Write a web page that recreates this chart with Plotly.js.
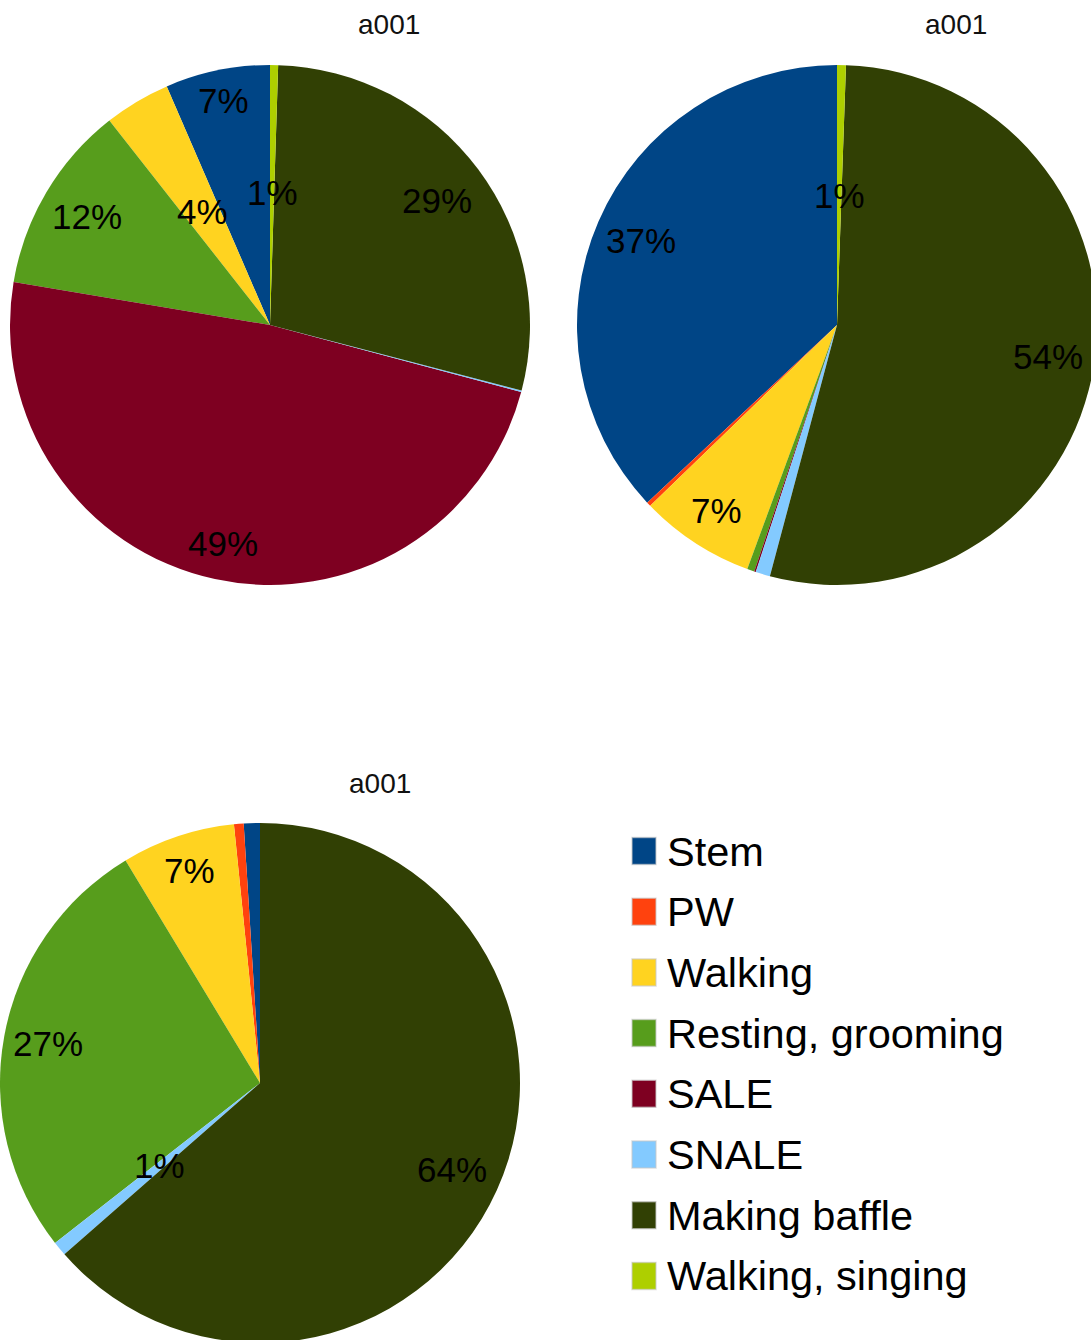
<!DOCTYPE html>
<html><head><meta charset="utf-8">
<script src="https://cdn.plot.ly/plotly-3.0.1.min.js"></script>
<style>html,body{margin:0;padding:0;overflow:hidden;background:#fff}#chart{width:1100px;height:1350px}</style>
</head><body><div id="chart"></div>
<script>
// ---- data ----
const categories = ['Stem', 'PW', 'Walking', 'Resting, grooming', 'SALE', 'SNALE', 'Making baffle', 'Walking, singing'];
const colors = ['#004586', '#ff420e', '#ffd320', '#579d1c', '#7e0021', '#83caff', '#314004', '#aecf00'];
const pie1Values = [6.5, 0, 4.1, 11.75, 48.5, 0.1, 28.55, 0.5];
const pie2Values = [36.97, 0.27, 7.15, 0.45, 0.1, 0.9, 53.6, 0.55];
const pie3Values = [1.0, 0.6, 7.05, 26.9, 0, 0.9, 63.55, 0];
const pie1Labels = ['7%', '', '4%', '12%', '49%', '', '29%', '1%'];
const pie2Labels = ['37%', '', '7%', '', '', '', '54%', '1%'];
const pie3Labels = ['', '', '7%', '27%', '', '1%', '64%', ''];
const titles = ['a001', 'a001', 'a001'];

// ---- style / layout geometry ----
const W = 1100, H = 1350;
const FONT = '"Liberation Sans", Arial, sans-serif';
const pies = [
  {values: pie1Values, labels: pie1Labels, cx: 270, cy: 325, r: 260, title: [389, 25],
   labelR: [0.88, 0, 0.51, 0.82, 0.86, 0, 0.80, 0.51]},
  {values: pie2Values, labels: pie2Labels, cx: 837, cy: 325, r: 260, title: [956, 25],
   labelR: [0.82, 0, 0.85, 0, 0, 0, 0.82, 0.5]},
  {values: pie3Values, labels: pie3Labels, cx: 260, cy: 1083, r: 260, title: [380, 783],
   labelR: [0, 0, 0.86, 0.83, 0, 0.5, 0.81, 0]}
];
const px = x => x / W;
const py = y => 1 - y / H;

const traces = [];
const annotations = [];
const shapes = [];

pies.forEach((p, k) => {
  const total = p.values.reduce((a, b) => a + b, 0);
  // Plotly's counterclockwise pies end the first slice at 'rotation';
  // shift so the first slice starts at 12 o'clock and runs counterclockwise.
  const firstNonZero = p.values.find(v => v > 0);
  traces.push({
    type: 'pie',
    values: p.values,
    labels: categories,
    marker: {colors: colors, line: {width: 0}},
    sort: false,
    direction: 'counterclockwise',
    rotation: -360 * firstNonZero / total,
    textinfo: 'none',
    hoverinfo: 'label+percent',
    showlegend: false,
    domain: {x: [px(p.cx - p.r), px(p.cx + p.r)], y: [py(p.cy + p.r), py(p.cy - p.r)]}
  });
  let cum = 0;
  p.values.forEach((v, i) => {
    const mid = (cum + v / 2) / total * 2 * Math.PI;
    cum += v;
    if (!p.labels[i]) return;
    const f = p.labelR[i];
    const x = p.cx - f * p.r * Math.sin(mid);
    const y = p.cy - f * p.r * Math.cos(mid);
    annotations.push({xref: 'paper', yref: 'paper', x: px(x), y: py(y), text: p.labels[i],
      showarrow: false, xanchor: 'center', yanchor: 'middle',
      font: {family: FONT, size: 35, color: '#000'}});
  });
  annotations.push({xref: 'paper', yref: 'paper', x: px(p.title[0]), y: py(p.title[1]), text: titles[k],
    showarrow: false, xanchor: 'center', yanchor: 'middle',
    font: {family: FONT, size: 28, color: '#111'}});
});

// legend
const legY0 = 851, legStep = 60.7;
categories.forEach((c, i) => {
  const cy = legY0 + i * legStep;
  shapes.push({type: 'rect', xref: 'paper', yref: 'paper', x0: px(632), x1: px(656), y0: py(cy + 13.5), y1: py(cy - 13.5),
    fillcolor: colors[i], line: {width: 1.5, color: 'rgba(200,200,200,0.6)'}});
  annotations.push({xref: 'paper', yref: 'paper', x: px(665), y: py(cy), text: c, showarrow: false,
    xanchor: 'left', yanchor: 'middle', font: {family: FONT, size: 41.5, color: '#000'}});
});

Plotly.newPlot('chart', traces, {
  width: W, height: H,
  margin: {l: 0, r: 0, t: 0, b: 0},
  paper_bgcolor: '#fff',
  showlegend: false,
  annotations: annotations,
  shapes: shapes
}, {displayModeBar: false, staticPlot: true});
</script>
</body></html>
